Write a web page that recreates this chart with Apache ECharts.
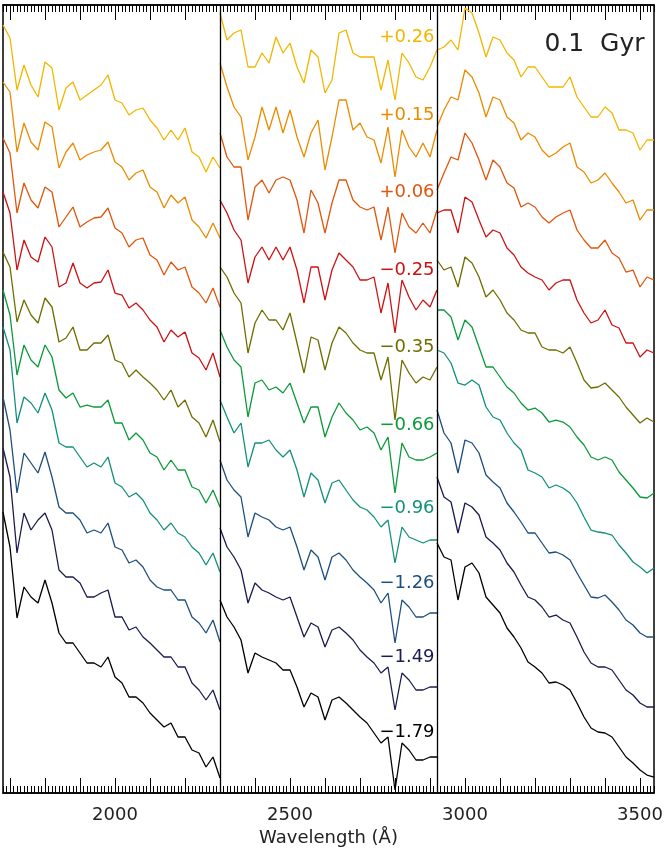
<!DOCTYPE html>
<html>
<head>
<meta charset="utf-8">
<script src="https://cdn.jsdelivr.net/npm/echarts@6/dist/echarts.min.js"></script>
<style>
  html, body { margin: 0; padding: 0; background: #fff; }
  #chart { width: 664px; height: 852px; }
</style>
</head>
<body>
<div id="chart"></div>
<script>
// Wavelength grids (Angstrom) of the three separately normalised windows
const wlA = [1680,1700,1720,1740,1760,1780,1800,1820,1840,1860,1880,1900,1920,1940,1960,1980,2000,2020,2040,2060,2080,2100,2120,2140,2160,2180,2200,2220,2240,2260,2280,2300];
const wlB = [2300,2320,2340,2360,2380,2400,2420,2440,2460,2480,2500,2520,2540,2560,2580,2600,2620,2640,2660,2680,2700,2720,2740,2760,2780,2800,2820,2840,2860,2880,2900,2920];
const wlC = [2920,2940,2960,2980,3000,3020,3040,3060,3080,3100,3120,3140,3160,3180,3200,3220,3240,3260,3280,3300,3320,3340,3360,3380,3400,3420,3440,3460,3480,3500,3520,3540];

// [Fe/H] of each model spectrum, top to bottom
const metallicity = ['+0.26', '+0.15', '+0.06', '\u22120.25', '\u22120.35', '\u22120.66', '\u22120.96', '\u22121.26', '\u22121.49', '\u22121.79'];
const lineColors = ['#f2b600', '#ec8a00', '#e0560c', '#cc1212', '#6e6e00', '#0b9a3a', '#12907a', '#1d4e7e', '#1b1b50', '#000000'];
// flux level (offset units) at which each [Fe/H] label sits
const labelFlux = [756, 678, 601, 523, 446, 368, 285, 210, 136, 61];
const labelWavelength = 2913;
const segmentEdges = [2300, 2920];
const tickLabels = [2000, 2500, 3000, 3500];
const majorTicks = [1700,1800,1900,2000,2100,2200,2300,2400,2500,2600,2700,2800,2900,3000,3100,3200,3300,3400,3500];
const ageText = '0.1  Gyr';

// Relative flux + vertical offset, window A (1680-2300 A)
const p026_a = [768,755,703,728,708,696,731,725,683,705,711,693,698,703,708,718,693,690,678,683,685,673,665,653,663,653,665,641,636,621,636,625];
const p015_a = [711,701,641,670,651,643,671,666,625,641,650,633,638,641,643,651,631,626,613,620,623,606,601,585,598,590,596,573,566,555,570,555];
const p006_a = [655,640,580,610,593,585,606,601,566,576,586,566,571,575,576,585,565,560,546,553,555,538,533,518,531,523,526,506,500,490,505,486];
const m025_a = [601,580,523,553,536,531,556,546,506,510,530,510,505,510,511,523,500,498,485,490,483,473,466,451,463,456,461,440,435,423,440,416];
const m035_a = [541,526,471,493,478,470,495,486,451,455,466,443,443,450,450,458,433,430,416,423,416,410,403,393,403,386,393,376,370,356,373,351];
const m066_a = [503,478,418,448,433,426,448,436,403,395,400,386,388,386,386,393,370,370,353,360,353,340,336,323,333,323,323,306,303,290,303,286];
const m096_a = [466,443,370,396,390,380,400,383,350,346,346,336,326,330,326,336,310,306,296,300,293,280,273,263,270,260,256,246,240,228,240,221];
const m126_a = [396,363,300,340,330,320,341,316,286,280,280,273,260,263,260,270,246,243,230,233,226,213,206,203,203,193,193,176,170,160,173,151];
const m149_a = [345,316,240,280,263,273,280,263,223,216,216,210,196,196,200,203,176,176,163,166,156,150,143,136,136,126,126,110,103,93,103,83];
const m179_a = [281,246,175,206,196,190,213,190,160,150,150,140,130,130,126,136,116,110,96,96,90,80,73,66,70,56,56,43,40,26,36,15];

// Window B (2300-2920 A), Mg II 2800 at index 25
const p026_b = [780,753,760,763,726,726,740,730,756,740,750,726,710,743,736,700,713,760,763,740,736,736,736,703,733,693,740,730,716,713,726,743];
const p015_b = [730,706,686,676,633,656,686,663,686,660,683,656,636,660,673,623,656,693,693,663,670,656,653,630,666,616,663,646,636,650,636,663];
const p006_b = [660,636,626,626,573,606,613,600,613,616,613,593,560,603,590,560,590,613,613,593,586,583,586,553,586,540,580,566,560,570,560,583];
const m025_b = [593,580,563,553,510,536,546,533,546,533,546,523,490,526,526,493,523,540,533,526,513,513,516,480,510,460,513,496,483,493,486,503];
const m035_b = [526,516,500,490,440,470,483,473,473,463,480,450,420,456,453,423,450,466,460,450,443,440,440,413,436,373,433,420,410,416,413,426];
const m066_b = [463,446,433,426,376,410,413,403,406,400,410,390,370,386,386,356,376,390,380,373,363,366,360,343,356,300,350,336,333,333,336,340];
const m096_b = [393,376,360,370,326,350,350,353,343,336,343,323,296,320,313,290,310,313,303,293,286,283,276,266,273,230,266,256,253,250,253,253];
const m126_b = [333,313,303,296,256,280,276,273,266,263,266,246,223,243,236,213,236,240,233,223,216,210,203,190,200,150,193,186,176,176,180,180];
const m149_b = [265,246,236,223,190,210,203,200,196,193,196,176,156,170,166,146,163,166,160,153,143,136,130,120,126,83,120,113,103,103,106,106];
const m179_b = [193,176,166,153,120,140,136,133,130,123,123,106,86,100,96,73,93,96,90,83,76,70,60,50,56,3,50,43,33,33,36,36];

// Window C (2920-3540 A)
const p026_c = [743,746,753,743,785,780,760,736,756,753,740,733,716,726,726,716,706,706,706,716,696,686,676,676,686,680,663,663,660,643,653,653];
const p015_c = [666,683,696,693,723,716,700,676,696,693,676,670,653,660,656,643,636,640,646,650,626,621,610,613,620,610,601,590,593,573,583,583];
const p006_c = [603,620,636,633,660,650,633,613,633,626,610,605,586,590,586,576,570,576,580,583,563,553,545,545,553,540,535,521,523,506,516,513];
const m025_c = [580,583,583,560,596,591,573,556,563,560,545,538,526,520,516,513,503,510,513,513,493,480,470,473,483,468,465,450,450,436,443,440];
const m035_c = [533,523,526,506,536,530,516,496,503,493,480,473,463,460,460,446,443,443,440,446,430,413,405,406,410,403,396,386,378,370,375,371];
const m066_c = [483,483,476,453,473,466,446,426,426,416,406,400,390,383,385,380,371,373,371,366,356,348,336,333,336,333,321,313,305,296,295,300];
const m096_c = [443,440,430,410,408,413,408,386,376,373,360,350,343,323,320,316,305,308,305,300,290,276,263,261,260,258,248,240,231,226,220,225];
const m126_c = [383,360,350,320,353,350,340,318,311,305,290,281,271,260,260,250,240,241,238,233,220,208,196,195,198,191,183,173,168,160,156,156];
const m149_c = [316,296,291,260,290,286,278,256,250,243,230,221,208,196,193,186,176,178,173,170,156,141,130,126,126,123,113,103,98,90,86,86];
const m179_c = [250,236,233,193,226,230,220,196,188,180,165,156,145,131,126,120,110,111,108,103,90,76,65,61,60,56,46,36,30,23,18,16];

const spectra = [
  [p026_a, p026_b, p026_c], [p015_a, p015_b, p015_c], [p006_a, p006_b, p006_c],
  [m025_a, m025_b, m025_c], [m035_a, m035_b, m035_c], [m066_a, m066_b, m066_c],
  [m096_a, m096_b, m096_c], [m126_a, m126_b, m126_c], [m149_a, m149_b, m149_c],
  [m179_a, m179_b, m179_c]
];

// minor ticks every 10 A between the 100 A ticks
const minorTicks = [];
for (let w = 1680; w <= 3540; w += 10) if (w % 100 !== 0) minorTicks.push(w);

const X_MIN = 1680, X_MAX = 3540, Y_MIN = 0, Y_MAX = 788;
const FONT = 'DejaVu Sans';

function joinWindows(parts) {
  const grids = [wlA, wlB, wlC];
  const out = [];
  parts.forEach((vals, i) => {
    if (i > 0) out.push([grids[i][0], '-']);      // break the line at the window edge
    vals.forEach((v, j) => out.push([grids[i][j], v]));
  });
  return out;
}

function tickAxis(position, values, len, withLine) {
  return {
    type: 'value', position: position, min: X_MIN, max: X_MAX,
    axisLine: { show: withLine, onZero: false, lineStyle: { color: '#000', width: 1.5 } },
    axisTick: { show: true, inside: true, length: len, customValues: values, lineStyle: { color: '#000', width: 1 } },
    axisLabel: withLine && position === 'bottom'
      ? { show: true, customValues: tickLabels, margin: 13, fontSize: 18, color: '#222', fontFamily: FONT,
          formatter: v => String(v) }
      : { show: false },
    splitLine: { show: false }
  };
}

const xAxes = [
  Object.assign(tickAxis('bottom', majorTicks, 15, true), {
    name: 'Wavelength (\u00c5)', nameLocation: 'middle', nameGap: 36,
    nameTextStyle: { fontSize: 18, color: '#222', fontFamily: FONT }
  }),
  tickAxis('bottom', minorTicks, 7, false),
  tickAxis('top', majorTicks, 15, true),
  tickAxis('top', minorTicks, 7, false)
];

const series = spectra.map((parts, i) => ({
  type: 'line',
  name: metallicity[i],
  xAxisIndex: 0, yAxisIndex: 0,
  data: joinWindows(parts),
  showSymbol: false, symbol: 'none',
  connectNulls: false,
  lineStyle: { color: lineColors[i], width: 1.3 },
  itemStyle: { color: lineColors[i] },
  silent: true,
  z: 2
}));

series[series.length - 1].markLine = {
  silent: true, symbol: ['none', 'none'],
  label: { show: false },
  lineStyle: { color: '#000', width: 1.3, type: 'solid' },
  data: segmentEdges.map(w => ({ xAxis: w }))
};

const chart = echarts.init(document.getElementById('chart'), null, { renderer: 'canvas' });
chart.setOption({
  animation: false,
  backgroundColor: '#fff',
  grid: {
    left: 3, right: 10, top: 5, bottom: 59,
    containLabel: false, outerBoundsMode: 'none',
    show: true, borderColor: '#000', borderWidth: 1.5, backgroundColor: 'transparent'
  },
  xAxis: xAxes,
  yAxis: { type: 'value', min: Y_MIN, max: Y_MAX, show: false, splitLine: { show: false } },
  series: series
});

// metallicity labels beside the Mg II window edge, plus the age tag
const texts = metallicity.map((t, i) => {
  const p = chart.convertToPixel({ xAxisIndex: 0, yAxisIndex: 0 }, [labelWavelength, labelFlux[i]]);
  return {
    type: 'text', x: p[0], y: p[1], z: 10,
    style: { text: t, fill: lineColors[i], font: '18px "' + FONT + '"', textAlign: 'right', textVerticalAlign: 'middle' }
  };
});
const agePos = chart.convertToPixel({ xAxisIndex: 0, yAxisIndex: 0 }, [3370, 749]);
texts.push({
  type: 'text', x: agePos[0], y: agePos[1], z: 10,
  style: { text: ageText, fill: '#222', font: '25px "' + FONT + '"', textAlign: 'center', textVerticalAlign: 'middle' }
});
chart.setOption({ graphic: texts });
</script>
</body>
</html>
